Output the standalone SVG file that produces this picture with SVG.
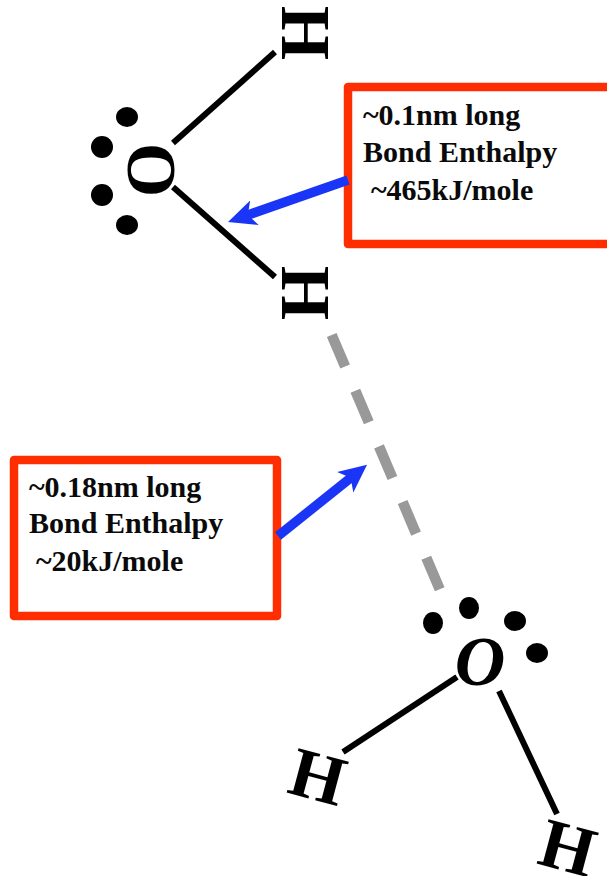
<svg xmlns="http://www.w3.org/2000/svg" width="607" height="876" viewBox="0 0 607 876">
<style>
.atom{font-family:"Liberation Serif","Times New Roman",serif;font-weight:bold;font-size:70px;text-anchor:middle;fill:#000}
.label{font-family:"Liberation Serif","Times New Roman",serif;font-weight:bold;font-size:30px;fill:#0a0a0a}
.bond{stroke:#000;stroke-width:6;fill:none}
.box{fill:#fff;stroke:#ff2e00;stroke-width:8.5;stroke-linejoin:round}
.arrow{stroke:#1a35f5;stroke-width:9.5;fill:none}
.dot{fill:#000}
</style>
<defs>
<marker id="head" markerUnits="userSpaceOnUse" markerWidth="30" markerHeight="30" refX="10" refY="13" orient="auto" viewBox="0 0 30 26"><path d="M0 0L28 13L0 26L7 13Z" fill="#1a35f5"/></marker>
</defs>
<rect width="607" height="876" fill="#fff"/>
<g id="connectors">
<path class="bond" d="M275 52L173 143"/>
<path class="bond" d="M173 187L275 277"/>
<path class="bond" d="M457 677L343 752"/>
<path class="bond" d="M499 691L557 814"/>
<path d="M331.7 335L440 590" stroke="#999" stroke-width="10.5" fill="none" stroke-dasharray="34.3 26.2"/>
</g>
<g id="oxygen-top">
<text class="atom" transform="translate(151 170) rotate(90) translate(0 23)">O</text>
<ellipse class="dot" cx="127" cy="117" rx="11" ry="10"/>
<ellipse class="dot" cx="102" cy="147" rx="11" ry="11"/>
<ellipse class="dot" cx="102" cy="195" rx="11" ry="11"/>
<ellipse class="dot" cx="127" cy="225" rx="11" ry="10"/>
</g>
<g id="hydrogen-top-1"><text class="atom" transform="translate(306 33) rotate(90) translate(0 24)">H</text></g>
<g id="hydrogen-top-2"><text class="atom" transform="translate(306 293) rotate(90) translate(0 24)">H</text></g>
<g id="oxygen-bottom">
<text class="atom" style="font-style:italic" transform="translate(480 661) translate(0 24)">O</text>
<ellipse class="dot" cx="433" cy="623" rx="10" ry="11"/>
<ellipse class="dot" cx="469" cy="608" rx="10" ry="11"/>
<ellipse class="dot" cx="515" cy="621" rx="11" ry="10"/>
<ellipse class="dot" cx="537" cy="653" rx="11" ry="10"/>
</g>
<g id="hydrogen-bottom-1"><text class="atom" transform="translate(318 776) rotate(15) translate(0 24)">H</text></g>
<g id="hydrogen-bottom-2"><text class="atom" transform="translate(568 847) rotate(15) translate(0 24)">H</text></g>
<g id="box-covalent">
<rect class="box" x="348" y="87" width="270" height="157"/>
<text class="label" x="363" y="125">~0.1nm long</text>
<text class="label" x="363" y="162">Bond Enthalpy</text>
<text class="label" x="371" y="200">~465kJ/mole</text>
</g>
<g id="box-hydrogen">
<rect class="box" x="14" y="460" width="263" height="156"/>
<text class="label" x="29" y="497">~0.18nm long</text>
<text class="label" x="29" y="533">Bond Enthalpy</text>
<text class="label" x="36" y="571">~20kJ/mole</text>
</g>
<g id="callout-arrows">
<path class="arrow" d="M348 180L245 216" marker-end="url(#head)"/>
<path class="arrow" d="M278 536L353 476" marker-end="url(#head)"/>
</g>
</svg>
